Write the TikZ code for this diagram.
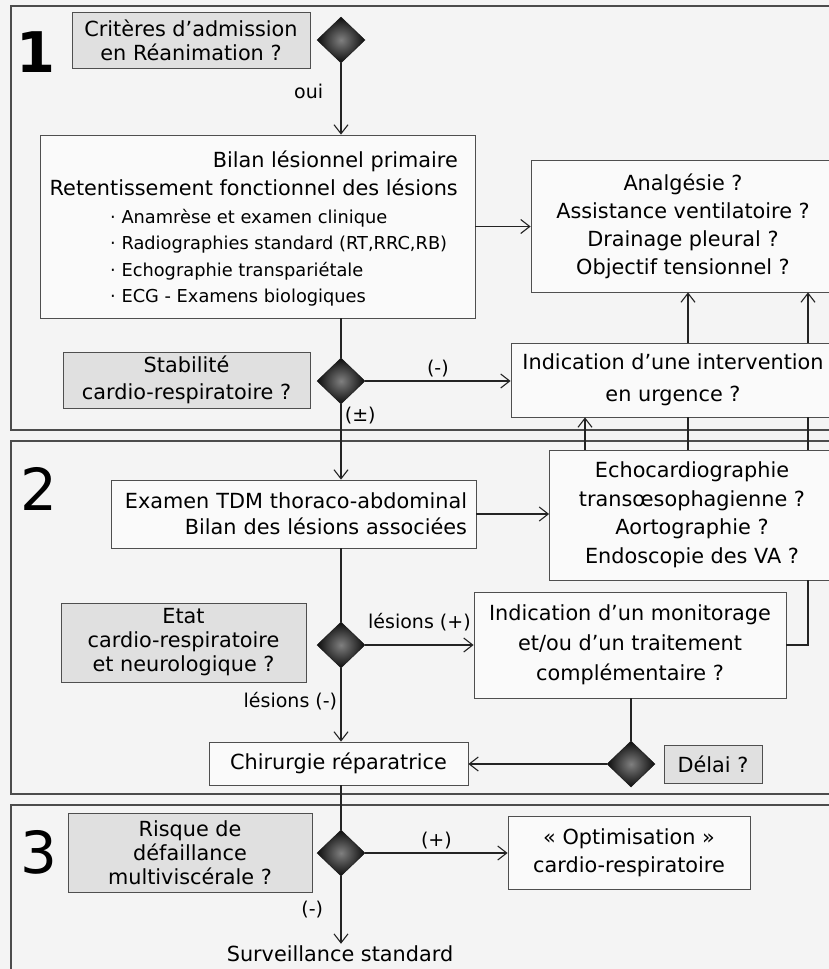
\documentclass[tikz,border=0pt]{standalone}
\usepackage{fontspec}
\setmainfont{DejaVu Sans}
\usetikzlibrary{shapes.geometric,arrows.meta}
\definecolor{fond}{RGB}{244,244,244}
\definecolor{grisbox}{RGB}{224,224,224}
\definecolor{trait}{RGB}{35,35,35}

\begin{document}
\begin{tikzpicture}[x=1pt,y=-1pt,
  txt/.style={font=\fontsize{20.8}{27}\selectfont, align=center},
  ligne/.style={font=\fontsize{20.8}{27}\selectfont, inner sep=0pt, text height=14pt, text depth=4pt},
  puce/.style={ligne, font=\fontsize{17.8}{20}\selectfont},
  boite/.style={txt, draw=trait!80, line width=0.8pt, fill=white!55!fond, inner sep=0pt},
  grise/.style={boite, fill=grisbox, font=\fontsize{20.8}{24}\selectfont},
  losange/.style={diamond, draw=black!90, line width=0.5pt, minimum width=48pt, minimum height=46pt, inner sep=0pt, inner color=black!50, outer color=black!95},
  fleche/.style={-{Straight Barb[length=9pt,width=14pt]}, line width=1.1pt, draw=trait},
  lien/.style={line width=1.1pt, draw=trait},
  cadre/.style={draw=black!70, line width=1.6pt},
  etiq/.style={font=\fontsize{19}{21}\selectfont},
  numero/.style={font=\fontsize{58}{58}\selectfont, inner sep=0pt}
]
\fill[fond] (0,0) rectangle (829,969);
\clip (0,0) rectangle (829,969);

\draw[cadre] (11,6) rectangle (860,430);
\draw[cadre] (11,441) rectangle (860,794);
\draw[cadre] (11,805) rectangle (860,1000);

\node[numero, font=\fontsize{56}{56}\selectfont\bfseries] (num1) at (36,52) {1};
\node[numero] (num2) at (39,489) {2};
\node[numero] (num3) at (39,852) {3};

\coordinate (colA) at (585,0);
\coordinate (colB) at (688,0);
\coordinate (colC) at (808,0);

\node[grise, minimum width=238pt, minimum height=56pt] (crit) at (191,40) {Critères d'admission\\en Réanimation ?};
\node[losange] (d1) at (341,40) {};

\node[boite, minimum width=435pt, minimum height=183pt] (bilan) at (257.5,226.5) {};
\node[ligne, anchor=east] (bilanA) at (458,162) {Bilan lésionnel primaire};
\node[ligne, anchor=east] (bilanB) at (458,190) {Retentissement fonctionnel des lésions};
\foreach \t [count=\i] in {Anamrèse et examen clinique, {Radiographies standard (RT,RRC,RB)}, Echographie transpariétale, ECG - Examens biologiques}
  \node[puce, anchor=west] (puce\i) at (110,{191.5+26.5*\i}) {· \t};

\node[boite, minimum width=304pt, minimum height=132pt, font=\fontsize{20.8}{28}\selectfont] (analg) at (683,226) {Analgésie ?\\Assistance ventilatoire ?\\Drainage pleural ?\\Objectif tensionnel ?};

\node[grise, minimum width=247pt, minimum height=56pt, font=\fontsize{20.8}{27}\selectfont] (stab) at (186.5,380) {Stabilité\\cardio-respiratoire ?};
\node[losange] (d2) at (341,381) {};
\node[boite, minimum width=324pt, minimum height=74pt, font=\fontsize{20.8}{32}\selectfont] (indic) at (673,380) {Indication d'une intervention\\en urgence ?};

\node[boite, align=right, text width=347pt, inner xsep=9pt, minimum height=68pt, font=\fontsize{20.8}{26}\selectfont] (tdm) at (293.5,514) {Examen TDM thoraco-abdominal\\Bilan des lésions associées};
\node[boite, minimum width=285pt, minimum height=130pt, font=\fontsize{20.8}{28.5}\selectfont] (echo) at (692,515) {Echocardiographie\\transœsophagienne ?\\Aortographie ?\\Endoscopie des VA ?};

\node[grise, minimum width=245pt, minimum height=79pt] (etat) at (183.5,642.5) {Etat\\cardio-respiratoire\\et neurologique ?};
\node[losange] (d3) at (341,645) {};
\node[boite, minimum width=312pt, minimum height=106pt, font=\fontsize{20.8}{30}\selectfont] (monit) at (630,645) {Indication d'un monitorage\\et/ou d'un traitement\\complémentaire ?};

\node[boite, minimum width=259pt, minimum height=43pt] (chir) at (338.5,763.5) {Chirurgie réparatrice};
\node[losange] (d4) at (631,764) {};
\node[grise, minimum width=98pt, minimum height=38pt] (delai) at (713,764) {Délai ?};

\node[grise, minimum width=244pt, minimum height=79pt] (risque) at (190,852.5) {Risque de\\défaillance\\multiviscérale ?};
\node[losange] (d5) at (341,853) {};
\node[boite, minimum width=242pt, minimum height=73pt, font=\fontsize{20.8}{28}\selectfont] (optim) at (629,852.5) {«~Optimisation~»\\cardio-respiratoire};
\node[txt, inner sep=2pt] (surv) at (340,954) {Surveillance standard};

\draw[fleche] (d1.south) -- (bilan.north -| d1) node[etiq, left=14pt, pos=0.4] (oui) {oui};
\draw[fleche] (bilan.east) -- (analg.west |- bilan.east);
\draw[lien] (bilan.south -| d2) -- (d2.north);
\draw[fleche] (d2.east) -- (indic.west |- d2.east) node[etiq, above, midway] (moins1) {(-)};
\draw[fleche] (d2.south) -- (tdm.north -| d2) node[etiq, right, pos=0.15] (pm) {(±)};
\foreach \c in {colB,colC}
  \draw[fleche] (indic.north -| \c) -- (analg.south -| \c);
\draw[fleche] (echo.north -| colA) -- (indic.south -| colA);
\foreach \c in {colB,colC}
  \draw[lien] (echo.north -| \c) -- (indic.south -| \c);
\draw[fleche] (tdm.east) -- (echo.west |- tdm.east);
\draw[lien] (tdm.south -| d3) -- (d3.north);
\draw[fleche] (d3.east) -- (monit.west |- d3.east) node[etiq, above=10pt, midway] (lesplus) {lésions (+)};
\draw[fleche] (d3.south) -- (chir.north -| d3) node[etiq, left, pos=0.45] (lesmoins) {lésions (-)};
\draw[lien] (monit.south -| d4) -- (d4.north);
\draw[fleche] (d4.west) -- (chir.east |- d4.west);
\draw[lien] (monit.east) -| (echo.south -| colC);
\draw[lien] (chir.south -| d5) -- (d5.north);
\draw[fleche] (d5.east) -- (optim.west |- d5.east) node[etiq, above, midway] (plus) {(+)};
\draw[fleche] (d5.south) -- (surv.north -| d5) node[etiq, left=14pt, pos=0.5] (moins2) {(-)};
\end{tikzpicture}
\end{document}
